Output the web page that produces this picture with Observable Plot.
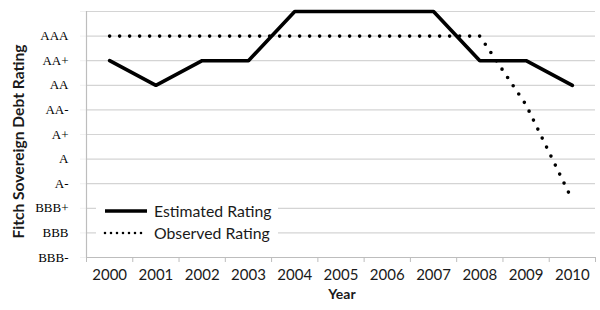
<!DOCTYPE html>
<html>
<head>
<meta charset="utf-8">
<script src="https://cdn.jsdelivr.net/npm/d3@7"></script>
<script src="https://cdn.jsdelivr.net/npm/@observablehq/plot@0.6"></script>
<style>
  html, body { margin: 0; padding: 0; background: #fff; }
  #wrap { position: relative; width: 600px; height: 310px; }
  #legend { position: absolute; left: 0; top: 0; pointer-events: none; }
</style>
</head>
<body>
<div id="wrap"></div>
<script>
// Data
const years = [2000, 2001, 2002, 2003, 2004, 2005, 2006, 2007, 2008, 2009, 2010];
// rating index: 0 = BBB-, 1 = BBB, ..., 9 = AAA, 10 = above AAA (unlabeled top gridline)
const ratingLabels = ["BBB-", "BBB", "BBB+", "A-", "A", "A+", "AA-", "AA", "AA+", "AAA", ""];
const estimated = [8, 7, 8, 8, 10, 10, 10, 10, 8, 8, 7];
const observed  = [9, 9, 9, 9, 9, 9, 9, 9, 9, 6.2, 2.33];
const seriesNames = ["Estimated Rating", "Observed Rating"];

const estData = years.map((y, i) => ({year: y, value: estimated[i]}));
const obsData = years.map((y, i) => ({year: y, value: observed[i]}));
const boundaries = d3.range(years[0] - 0.5, years[years.length - 1] + 1, 1);
const ratingTicks = d3.range(0, ratingLabels.length);

const gridColor = "#d4d4d4";
const sans = "Lato, 'Open Sans', sans-serif";

const chart = Plot.plot({
  width: 600,
  height: 310,
  marginLeft: 86,
  marginRight: 5,
  marginTop: 11,
  marginBottom: 53,
  style: {fontFamily: sans, background: "#fff", overflow: "visible"},
  x: {type: "linear", domain: [years[0] - 0.5, years[years.length - 1] + 0.5]},
  y: {type: "linear", domain: [0, 10]},
  marks: [
    Plot.gridY(ratingTicks, {stroke: gridColor, strokeOpacity: 1, strokeWidth: 1.2}),
    Plot.axisY(ratingTicks, {
      tickSize: 6, tickPadding: 12, stroke: gridColor, strokeOpacity: 1,
      tickFormat: d => ratingLabels[d], label: null,
      fontFamily: "'Liberation Serif', 'Times New Roman', serif", fontSize: 13, fill: "#000",
      strokeWidth: 0.35
    }),
    Plot.ruleX([years[0] - 0.5], {stroke: "#bdbdbd", strokeWidth: 1.2}),
    Plot.ruleY([0], {stroke: "#bdbdbd", strokeWidth: 1.2}),
    Plot.axisX(boundaries, {tickSize: 5, stroke: "#bdbdbd", strokeOpacity: 1, tickFormat: () => "", label: null}),
    Plot.axisX(years, {tickSize: 0, tickPadding: 12, tickFormat: d => String(d), label: null, fontSize: 15, fill: "#1a1a1a"}),
    Plot.text(["Year"], {frameAnchor: "bottom", dx: 1, dy: 41, fontWeight: "bold", fontSize: 14, fill: "#1a1a1a"}),
    Plot.text(["Fitch Sovereign Debt Rating"], {frameAnchor: "left", textAnchor: "middle", rotate: -90, dx: -68, dy: 7, fontWeight: "bold", fontSize: 15.6, fill: "#1a1a1a"}),
    Plot.line(obsData, {x: "year", y: "value", stroke: "#000", strokeWidth: 3.6, strokeDasharray: "0 10", strokeLinecap: "round"}),
    Plot.line(estData, {x: "year", y: "value", stroke: "#000", strokeWidth: 3.6, strokeLinejoin: "miter"})
  ]
});
document.getElementById("wrap").appendChild(chart);

// Legend overlay (inside the plot area, lower left)
const ns = "http://www.w3.org/2000/svg";
const leg = document.createElementNS(ns, "svg");
leg.setAttribute("id", "legend");
leg.setAttribute("width", 600);
leg.setAttribute("height", 310);
const bg = document.createElementNS(ns, "rect");
bg.setAttribute("x", 96); bg.setAttribute("y", 198); bg.setAttribute("width", 182); bg.setAttribute("height", 46);
bg.setAttribute("fill", "#fff");
leg.appendChild(bg);
const items = [
  {name: seriesNames[0], y: 211, dash: null},
  {name: seriesNames[1], y: 233, dash: "0 6"}
];
items.forEach(it => {
  const l = document.createElementNS(ns, "line");
  l.setAttribute("x1", 105); l.setAttribute("x2", 147);
  l.setAttribute("y1", it.y); l.setAttribute("y2", it.y);
  l.setAttribute("stroke", "#000");
  if (it.dash) {
    l.setAttribute("stroke-width", 2.6);
    l.setAttribute("stroke-dasharray", it.dash);
    l.setAttribute("stroke-linecap", "round");
  } else {
    l.setAttribute("stroke-width", 3.6);
  }
  leg.appendChild(l);
  const t = document.createElementNS(ns, "text");
  t.setAttribute("x", 154); t.setAttribute("y", it.y);
  t.setAttribute("dy", "0.35em");
  t.setAttribute("font-family", sans);
  t.setAttribute("font-size", 15.8);
  t.setAttribute("fill", "#1a1a1a");
  t.textContent = it.name;
  leg.appendChild(t);
});
document.getElementById("wrap").appendChild(leg);
</script>
</body>
</html>
